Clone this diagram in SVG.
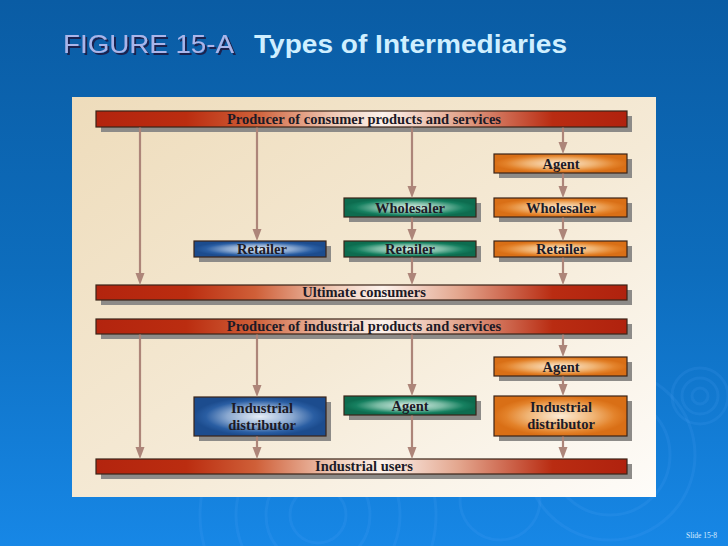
<svg xmlns="http://www.w3.org/2000/svg" width="728" height="546" viewBox="0 0 728 546">
<defs>
<linearGradient id="bg" x1="0" y1="0" x2="0" y2="1">
<stop offset="0" stop-color="#0a5ca4"/>
<stop offset="0.5" stop-color="#0d6dbd"/>
<stop offset="1" stop-color="#1787e6"/>
</linearGradient>
<linearGradient id="panel" x1="0" y1="0" x2="1" y2="1">
<stop offset="0" stop-color="#eedcbb"/>
<stop offset="0.55" stop-color="#f5ead6"/>
<stop offset="1" stop-color="#fefcf9"/>
</linearGradient>
<linearGradient id="red" x1="0" y1="0" x2="1" y2="0">
<stop offset="0" stop-color="#b3240e"/>
<stop offset="0.17" stop-color="#bb2d10"/>
<stop offset="0.3" stop-color="#cf5f38"/>
<stop offset="0.45" stop-color="#f0cbb8"/>
<stop offset="0.54" stop-color="#fcf2ec"/>
<stop offset="0.68" stop-color="#e4a890"/>
<stop offset="0.86" stop-color="#b92c12"/>
<stop offset="1" stop-color="#b0220e"/>
</linearGradient>
<radialGradient id="blue" cx="0.5" cy="0.5" r="0.5">
<stop offset="0" stop-color="#e6edf6"/>
<stop offset="0.5" stop-color="#8aa8d0"/>
<stop offset="0.82" stop-color="#2a5ea3"/>
<stop offset="1" stop-color="#1c4c8e"/>
</radialGradient>
<radialGradient id="green" cx="0.5" cy="0.5" r="0.5">
<stop offset="0" stop-color="#dcefe8"/>
<stop offset="0.5" stop-color="#7abba4"/>
<stop offset="0.82" stop-color="#168060"/>
<stop offset="1" stop-color="#0d6c4f"/>
</radialGradient>
<radialGradient id="orange" cx="0.5" cy="0.5" r="0.5">
<stop offset="0" stop-color="#fcebd6"/>
<stop offset="0.5" stop-color="#f0b474"/>
<stop offset="0.82" stop-color="#e3822a"/>
<stop offset="1" stop-color="#d96f16"/>
</radialGradient>
<filter id="tsh" x="-5%" y="-20%" width="110%" height="150%">
<feDropShadow dx="2" dy="2" stdDeviation="0.3" flood-color="#1a2450" flood-opacity="1"/>
</filter>
<marker id="ah" viewBox="0 -5 12 10" refX="4" refY="0" markerWidth="12" markerHeight="10" markerUnits="userSpaceOnUse" orient="auto">
<path d="M0,-4.5 L12,0 L0,4.5 Z" fill="#ad8579"/>
</marker>
</defs>
<style>
.sh{fill:#8d8b88}
.bx{stroke:#3a2418;stroke-width:1.2}
.t{font-family:"Liberation Serif","Times New Roman",serif;font-weight:bold;font-size:14.5px;fill:#1c1a26;text-anchor:middle}
.cn{stroke:#ad8579;stroke-width:2.2;fill:none;marker-end:url(#ah)}
.rp{fill:none;stroke:#5fb0ff;stroke-opacity:0.12;stroke-width:3}
</style>
<rect x="0" y="0" width="728" height="546" fill="url(#bg)"/>
<g id="ripples">
<circle class="rp" cx="318" cy="515" r="28"/>
<circle class="rp" cx="318" cy="515" r="52"/>
<circle class="rp" cx="318" cy="515" r="82"/>
<circle class="rp" cx="318" cy="515" r="118"/>
<circle class="rp" cx="700" cy="396" r="8"/>
<circle class="rp" cx="700" cy="396" r="18"/>
<circle class="rp" cx="700" cy="396" r="28"/>
<circle class="rp" cx="610" cy="455" r="60"/>
<circle class="rp" cx="610" cy="455" r="85"/>
<circle class="rp" cx="500" cy="500" r="40"/>
</g>
<g id="title">
<text x="63" y="53" font-family="'Liberation Sans',Arial,sans-serif" font-size="26" fill="#a9b5ea" filter="url(#tsh)" textLength="171" lengthAdjust="spacingAndGlyphs">FIGURE 15-A</text>
<text x="254" y="53" font-family="'Liberation Sans',Arial,sans-serif" font-size="26" font-weight="bold" fill="#cfefff" textLength="313" lengthAdjust="spacingAndGlyphs">Types of Intermediaries</text>
</g>
<rect id="panel-bg" x="72" y="97" width="584" height="400" fill="url(#panel)"/>

<g id="producer-consumer">
<rect class="sh" x="101" y="116" width="531" height="16"/>
<rect class="bx" x="96" y="111" width="531" height="16" fill="url(#red)"/>
<text class="t" x="364" y="123.5">Producer of consumer products and services</text>
</g>
<g id="agent-c">
<rect class="sh" x="499" y="159" width="133" height="19"/>
<rect class="bx" x="494" y="154" width="133" height="19" fill="url(#orange)"/>
<text class="t" x="561" y="168.5">Agent</text>
</g>
<g id="wholesaler-green">
<rect class="sh" x="349" y="203" width="132" height="19"/>
<rect class="bx" x="344" y="198" width="132" height="19" fill="url(#green)"/>
<text class="t" x="410" y="212.5">Wholesaler</text>
</g>
<g id="wholesaler-orange">
<rect class="sh" x="499" y="203" width="133" height="19"/>
<rect class="bx" x="494" y="198" width="133" height="19" fill="url(#orange)"/>
<text class="t" x="561" y="212.5">Wholesaler</text>
</g>
<g id="retailer-blue">
<rect class="sh" x="199" y="246" width="132" height="16"/>
<rect class="bx" x="194" y="241" width="132" height="16" fill="url(#blue)"/>
<text class="t" x="262" y="254">Retailer</text>
</g>
<g id="retailer-green">
<rect class="sh" x="349" y="246" width="132" height="16"/>
<rect class="bx" x="344" y="241" width="132" height="16" fill="url(#green)"/>
<text class="t" x="410" y="254">Retailer</text>
</g>
<g id="retailer-orange">
<rect class="sh" x="499" y="246" width="133" height="16"/>
<rect class="bx" x="494" y="241" width="133" height="16" fill="url(#orange)"/>
<text class="t" x="561" y="254">Retailer</text>
</g>
<g id="ultimate-consumers">
<rect class="sh" x="101" y="290" width="531" height="15"/>
<rect class="bx" x="96" y="285" width="531" height="15" fill="url(#red)"/>
<text class="t" x="364" y="297">Ultimate consumers</text>
</g>

<g id="producer-industrial">
<rect class="sh" x="101" y="324" width="531" height="15"/>
<rect class="bx" x="96" y="319" width="531" height="15" fill="url(#red)"/>
<text class="t" x="364" y="331">Producer of industrial products and services</text>
</g>
<g id="agent-i-orange">
<rect class="sh" x="499" y="362" width="133" height="19"/>
<rect class="bx" x="494" y="357" width="133" height="19" fill="url(#orange)"/>
<text class="t" x="561" y="371.5">Agent</text>
</g>
<g id="industrial-distributor-blue">
<rect class="sh" x="199" y="402" width="132" height="39"/>
<rect class="bx" x="194" y="397" width="132" height="39" fill="url(#blue)"/>
<text class="t" x="262" y="412.5">Industrial</text>
<text class="t" x="262" y="429.5">distributor</text>
</g>
<g id="agent-i-green">
<rect class="sh" x="349" y="401" width="132" height="19"/>
<rect class="bx" x="344" y="396" width="132" height="19" fill="url(#green)"/>
<text class="t" x="410" y="410.5">Agent</text>
</g>
<g id="industrial-distributor-orange">
<rect class="sh" x="499" y="401" width="133" height="40"/>
<rect class="bx" x="494" y="396" width="133" height="40" fill="url(#orange)"/>
<text class="t" x="561" y="412">Industrial</text>
<text class="t" x="561" y="429">distributor</text>
</g>
<g id="industrial-users">
<rect class="sh" x="101" y="464" width="531" height="15"/>
<rect class="bx" x="96" y="459" width="531" height="15" fill="url(#red)"/>
<text class="t" x="364" y="471">Industrial users</text>
</g>

<g id="connectors">
<line class="cn" x1="140" y1="127.6" x2="140" y2="277"/>
<line class="cn" x1="257" y1="127.6" x2="257" y2="233"/>
<line class="cn" x1="412" y1="127.6" x2="412" y2="190"/>
<line class="cn" x1="412" y1="217.6" x2="412" y2="233"/>
<line class="cn" x1="412" y1="257.6" x2="412" y2="277"/>
<line class="cn" x1="563" y1="127.6" x2="563" y2="146"/>
<line class="cn" x1="563" y1="173.6" x2="563" y2="190"/>
<line class="cn" x1="563" y1="217.6" x2="563" y2="233"/>
<line class="cn" x1="563" y1="257.6" x2="563" y2="277"/>
<line class="cn" x1="140" y1="334.6" x2="140" y2="451"/>
<line class="cn" x1="257" y1="334.6" x2="257" y2="389"/>
<line class="cn" x1="257" y1="436.6" x2="257" y2="451"/>
<line class="cn" x1="412" y1="334.6" x2="412" y2="388"/>
<line class="cn" x1="412" y1="415.6" x2="412" y2="451"/>
<line class="cn" x1="563" y1="334.6" x2="563" y2="349"/>
<line class="cn" x1="563" y1="376.6" x2="563" y2="388"/>
<line class="cn" x1="563" y1="436.6" x2="563" y2="451"/>
</g>
<text x="686" y="538" font-family="'Liberation Serif',serif" font-size="7.5" fill="#d6ecff">Slide 15-8</text>
</svg>
